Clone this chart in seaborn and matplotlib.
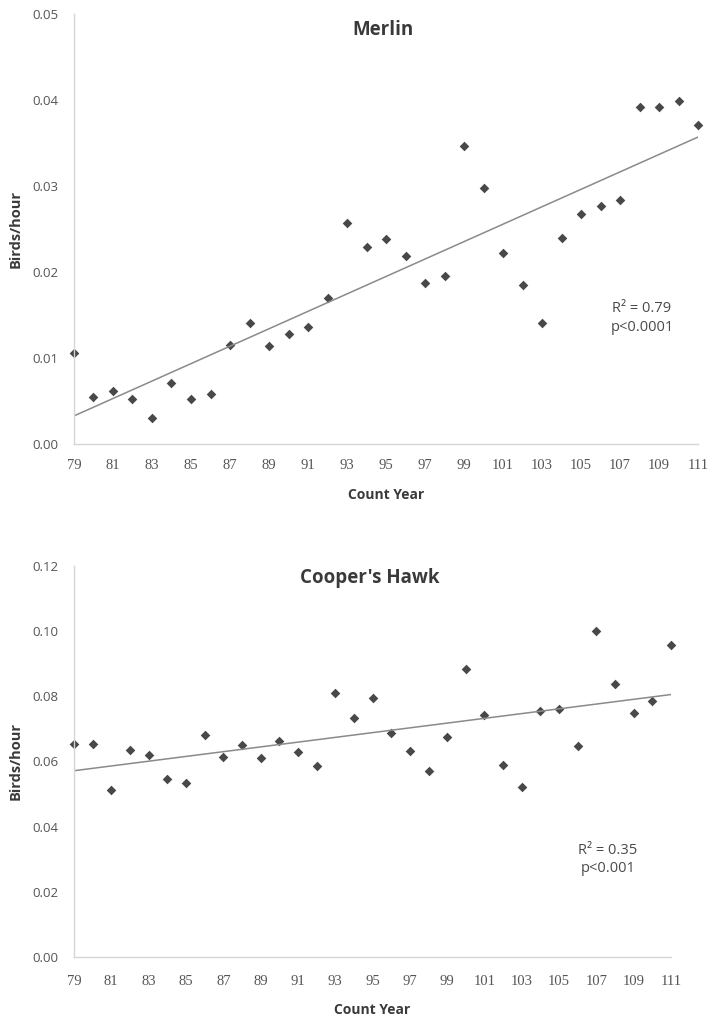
import matplotlib
matplotlib.use('Agg')
import matplotlib.pyplot as plt
import seaborn as sns
import numpy as np
import pandas as pd

# Count years (CBC count numbers)
years = list(range(79, 112))

merlin = [0.0106, 0.0055, 0.0062, 0.0053, 0.0030, 0.0071, 0.0052, 0.0058,
          0.0115, 0.0141, 0.0114, 0.0128, 0.0136, 0.0170, 0.0257, 0.0229,
          0.0238, 0.0219, 0.0187, 0.0195, 0.0347, 0.0298, 0.0222, 0.0185,
          0.0141, 0.0240, 0.0268, 0.0277, 0.0284, 0.0392, 0.0392, 0.0399,
          0.0371]

coopers = [0.0654, 0.0654, 0.0514, 0.0636, 0.0619, 0.0546, 0.0533, 0.0680,
           0.0615, 0.0650, 0.0610, 0.0663, 0.0629, 0.0586, 0.0811, 0.0732,
           0.0794, 0.0687, 0.0633, 0.0571, 0.0675, 0.0885, 0.0742, 0.0589,
           0.0522, 0.0754, 0.0761, 0.0647, 0.1002, 0.0837, 0.0749, 0.0785,
           0.0959]

xticks = list(range(79, 112, 2))
merlin_yticks = [0.00, 0.01, 0.02, 0.03, 0.04, 0.05]
coopers_yticks = [0.00, 0.02, 0.04, 0.06, 0.08, 0.10, 0.12]

df = pd.DataFrame({"year": years, "merlin": merlin, "coopers": coopers})

sns.set_style("white")
plt.rcParams['font.family'] = ['Open Sans', 'DejaVu Sans']

fig = plt.figure(figsize=(7.1, 10.28), dpi=100)
ax1 = fig.add_axes([0.1042, 0.568, 0.879, 0.4183])
ax2 = fig.add_axes([0.1042, 0.0691, 0.841, 0.3803])

txt = "#3a3a3a"
spine = "#d6d6d6"


def draw(ax, col, yticks, title, title_y, r2, p, stat_x, stat_y, label_pad):
    sns.regplot(data=df, x="year", y=col, ax=ax, ci=None, marker="D",
                scatter_kws=dict(s=24, color="#1a1a1a", clip_on=False, linewidths=0),
                line_kws=dict(color="#8a8a8a", lw=1.1))
    ax.set_xlim(79, 111)
    ax.set_ylim(yticks[0], yticks[-1])
    ax.set_xticks(xticks)
    ax.set_xticklabels([str(t) for t in xticks], family="Liberation Serif",
                       fontsize=10.5, color="#555555")
    ax.set_yticks(yticks)
    ax.set_yticklabels([f"{t:.2f}" for t in yticks], fontsize=9.5, color="#555555")
    for s in ["top", "right"]:
        ax.spines[s].set_visible(False)
    for s in ["left", "bottom"]:
        ax.spines[s].set_color(spine)
        ax.spines[s].set_linewidth(1.0)
    ax.tick_params(axis="x", length=4, color=spine, pad=label_pad)
    ax.tick_params(axis="y", length=0, pad=11)
    ax.set_xlabel("Count Year", fontsize=10, fontweight="bold", color=txt,
                  labelpad=11)
    ax.set_ylabel("Birds/hour", fontsize=10.5, fontweight="bold", color=txt,
                  labelpad=7)
    ax.text(0.495, title_y, title, transform=ax.transAxes, ha="center",
            va="center", fontsize=13.5, fontweight="bold", color=txt)
    ax.text(stat_x, stat_y, f"R\u00b2 = {r2}\np<{p}", transform=ax.transAxes,
            ha="center", va="center", fontsize=10.5, color="#4a4a4a",
            linespacing=1.3)


draw(ax1, "merlin", merlin_yticks, "Merlin", 0.962, "0.79", "0.0001",
     0.91, 0.293, 7)
draw(ax2, "coopers", coopers_yticks, "Cooper's Hawk", 0.97, "0.35", "0.001",
     0.894, 0.25, 9)

fig.savefig("out.png", dpi=100)
